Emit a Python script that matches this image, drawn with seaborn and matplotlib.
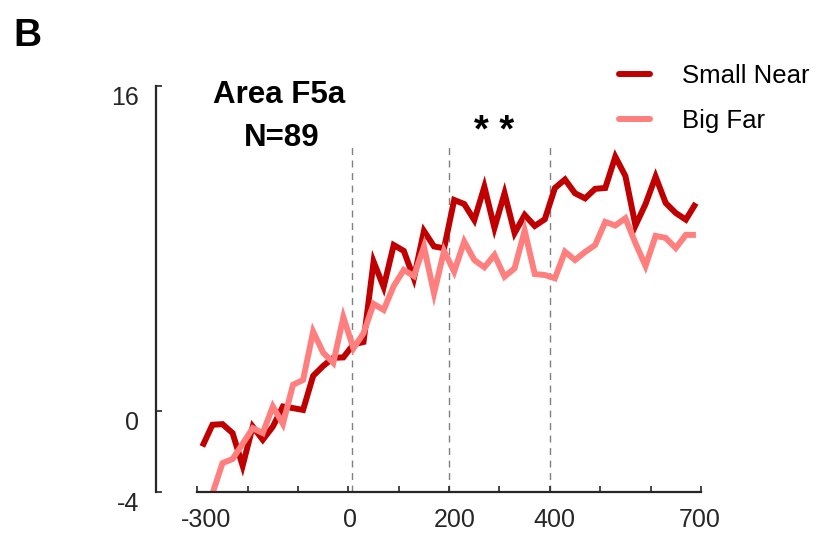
import numpy as np
import pandas as pd
import matplotlib
matplotlib.use("Agg")
import matplotlib.pyplot as plt
import matplotlib.transforms as mtransforms
import seaborn as sns

# Time bins (ms, bin centres) and mean firing rates for the two conditions
time_ms = np.arange(-290, 700, 20)
small_near = [-1.77, -0.70, -0.67, -1.11, -2.72, -0.79, -1.44, -0.79, 0.20, 0.12,
              0.03, 1.71, 2.20, 2.60, 2.62, 3.26, 3.38, 7.34, 6.09, 8.16,
              7.87, 6.52, 8.85, 8.09, 8.00, 10.38, 10.18, 9.39, 11.03, 9.00,
              10.71, 8.75, 9.64, 9.10, 9.43, 10.97, 11.39, 10.71, 10.46, 10.93,
              10.97, 12.51, 11.56, 9.12, 10.18, 11.53, 10.23, 9.74, 9.41, 10.22]
big_far = [-4.25, -4.10, -2.59, -2.39, -1.64, -0.87, -1.11, 0.20, -0.66, 1.27,
           1.51, 3.89, 2.85, 2.35, 4.60, 3.07, 3.81, 5.26, 4.96, 6.14,
           6.93, 6.63, 8.08, 5.78, 7.87, 6.85, 8.33, 7.42, 7.06, 7.67,
           6.60, 7.01, 8.87, 6.73, 6.68, 6.52, 7.83, 7.42, 7.82, 8.16,
           9.30, 9.12, 9.48, 8.25, 7.13, 8.61, 8.51, 8.01, 8.66, 8.66]

conditions = ["Small Near", "Big Far"]
colors = ["#C00000", "#FF7F7F"]
event_times = [8, 200, 400]
xtick_pos = list(range(-300, 701, 100))
xtick_labels = ["-300", "", "", "0", "", "200", "", "400", "", "", "700"]
ytick_pos = [-4, 0, 16]

df = pd.DataFrame({
    "time": np.concatenate([time_ms, time_ms]),
    "rate": np.concatenate([small_near, big_far]),
    "condition": [conditions[0]] * len(time_ms) + [conditions[1]] * len(time_ms),
})

sns.set_style("ticks")
plt.rcParams["font.family"] = ["Liberation Sans", "DejaVu Sans"]

fig = plt.figure(figsize=(8.16, 5.33), dpi=100)
ax = fig.add_axes([0.2418, 0.0775, 0.6172, 0.7612])

sns.lineplot(data=df, x="time", y="rate", hue="condition", hue_order=conditions,
             palette=colors, linewidth=4.3, ax=ax, legend=False,
             solid_joinstyle="miter", solid_capstyle="butt")

for t in event_times:
    ax.plot([t, t], [-4, 13], color="#808080", linewidth=1.0,
            linestyle=(0, (5, 4)), zorder=0.5)

ax.set_xlim(-300, 700)
ax.set_ylim(-4, 16)
ax.set_xlabel("")
ax.set_ylabel("")

ax.set_xticks(xtick_pos)
ax.set_xticklabels(xtick_labels)
ax.set_yticks(ytick_pos)
ax.set_yticklabels([str(v) for v in ytick_pos])

ax.spines["top"].set_visible(False)
ax.spines["right"].set_visible(False)
ax.spines["left"].set_position(("outward", 30))
for s in ("left", "bottom"):
    ax.spines[s].set_linewidth(1.6)
    ax.spines[s].set_color("#262626")

ax.tick_params(axis="x", direction="in", length=4, width=1.2, color="#262626",
               labelsize=18, labelcolor="#262626", pad=12)
ax.tick_params(axis="y", direction="in", length=4, width=1.2, color="#262626",
               labelsize=18, labelcolor="#262626", pad=12)
for lab in ax.get_yticklabels():
    lab.set_verticalalignment("top")

# small horizontal nudges of the x tick labels (pixels)
label_nudge = {"-300": 9, "0": 2, "200": 6, "400": 5, "700": -1}
for lab in ax.get_xticklabels():
    dx = label_nudge.get(lab.get_text(), 0)
    if dx:
        lab.set_transform(lab.get_transform() +
                          mtransforms.ScaledTranslation(dx / 100, 0, fig.dpi_scale_trans))

ax.text(-137, 15.55, "Area F5a", ha="center", va="center", fontsize=22.5,
        fontweight="bold", color="black")
ax.text(-133, 13.45, "N=89", ha="center", va="center", fontsize=22.5,
        fontweight="bold", color="black")
ax.text(289, 13.75, "* *", ha="center", va="center", fontsize=27.5,
        fontweight="bold", color="black")

fig.text(0.017, 0.932, "B", ha="left", va="center", fontsize=28,
         fontweight="bold", color="black")

handles = [plt.Line2D([], [], color=c, linewidth=4.3) for c in colors]
ax.legend(handles, conditions, loc="center left",
          bbox_to_anchor=(619 / 816, 1 - 98.5 / 533), bbox_transform=fig.transFigure,
          frameon=False, fontsize=18.5, handlelength=1.2, handletextpad=1.25,
          labelspacing=0.78, borderpad=0, borderaxespad=0, labelcolor="black")

fig.savefig("out.png", dpi=100)
